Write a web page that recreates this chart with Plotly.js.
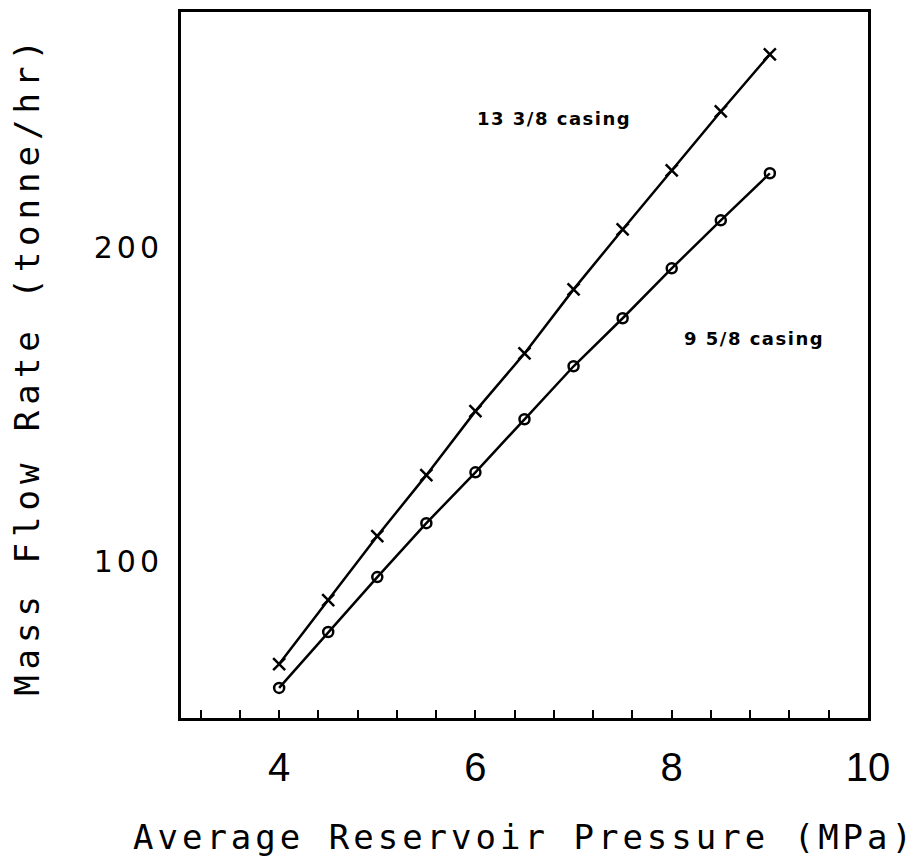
<!DOCTYPE html>
<html>
<head>
<meta charset="utf-8">
<script src="https://cdn.plot.ly/plotly-3.0.1.min.js"></script>
<style>
html, body { margin: 0; padding: 0; background: #fff; }
#chart { width: 918px; height: 861px; }
.ytitle { letter-spacing: 6px; }
.xtitle { letter-spacing: 4px; }
.ytick text { letter-spacing: 4px; }
.annotation-text { letter-spacing: 1.5px; }
</style>
</head>
<body>
<div id="chart"></div>
<script>
// Average reservoir pressure (MPa)
const pressure = [4, 4.5, 5, 5.5, 6, 6.5, 7, 7.5, 8, 8.5, 9];
// Mass flow rate (tonne/hr), 13 3/8 casing
const flow13 = [67.2, 87.6, 108.0, 127.4, 147.8, 166.2, 186.6, 205.7, 224.5, 243.3, 261.5];
// Mass flow rate (tonne/hr), 9 5/8 casing
const flow9 = [59.6, 77.4, 94.9, 112.1, 128.3, 145.2, 162.1, 177.4, 193.3, 208.6, 223.6];
const xTickVals = [4, 6, 8, 10];
const xTickText = ['4', '6', '8', '10'];
const yTickVals = [100, 200];
const yTickText = ['100', '200'];
const seriesNames = ['13 3/8 casing', '9 5/8 casing'];
const labelPos = [{x: 6.0, y: 241}, {x: 8.1, y: 171}];

const traces = [
  {
    x: pressure, y: flow13, name: seriesNames[0], type: 'scatter', mode: 'lines+markers',
    line: {color: '#000', width: 2.5},
    marker: {symbol: 'x-thin-open', size: 12, color: '#000', line: {color: '#000', width: 2.5}}
  },
  {
    x: pressure, y: flow9, name: seriesNames[1], type: 'scatter', mode: 'lines+markers',
    line: {color: '#000', width: 2.5},
    marker: {symbol: 'circle-open', size: 10, color: '#000', line: {color: '#000', width: 2.5}}
  }
];

const layout = {
  width: 918, height: 861,
  margin: {l: 181, r: 50, t: 12, b: 143},
  paper_bgcolor: '#fff', plot_bgcolor: '#fff',
  showlegend: false,
  xaxis: {
    range: [3, 10],
    tickvals: xTickVals, ticktext: xTickText,
    ticks: 'inside', ticklen: 8, tickwidth: 2, tickcolor: '#000',
    minor: {dtick: 0.4, tick0: 0, ticks: 'inside', ticklen: 8, tickwidth: 2, tickcolor: '#000', showgrid: false},
    showgrid: false, zeroline: false,
    showline: true, linecolor: '#000', linewidth: 3, mirror: true,
    tickfont: {family: 'Liberation Sans, Arial, sans-serif', size: 40, color: '#000'},
    ticklabelstandoff: 12,
    title: {text: 'Average Reservoir Pressure (MPa)', font: {family: 'DejaVu Sans Mono, monospace', size: 34, color: '#000'}, standoff: 38}
  },
  yaxis: {
    range: [50, 275],
    tickvals: yTickVals, ticktext: yTickText,
    ticks: '', showgrid: false, zeroline: false,
    showline: true, linecolor: '#000', linewidth: 3, mirror: true,
    tickfont: {family: 'DejaVu Sans, sans-serif', size: 30, color: '#000'},
    ticklabelstandoff: 9,
    title: {text: 'Mass Flow Rate (tonne/hr)', font: {family: 'DejaVu Sans Mono, monospace', size: 34, color: '#000'}, standoff: 44}
  },
  annotations: [
    {x: labelPos[0].x, y: labelPos[0].y, xref: 'x', yref: 'y', text: '<b>' + seriesNames[0] + '</b>', showarrow: false, xanchor: 'left', yanchor: 'middle',
     font: {family: 'DejaVu Sans, sans-serif', size: 18, color: '#000'}},
    {x: labelPos[1].x, y: labelPos[1].y, xref: 'x', yref: 'y', text: '<b>' + seriesNames[1] + '</b>', showarrow: false, xanchor: 'left', yanchor: 'middle',
     font: {family: 'DejaVu Sans, sans-serif', size: 18, color: '#000'}}
  ]
};

Plotly.newPlot('chart', traces, layout, {displayModeBar: false, staticPlot: true});
</script>
</body>
</html>
